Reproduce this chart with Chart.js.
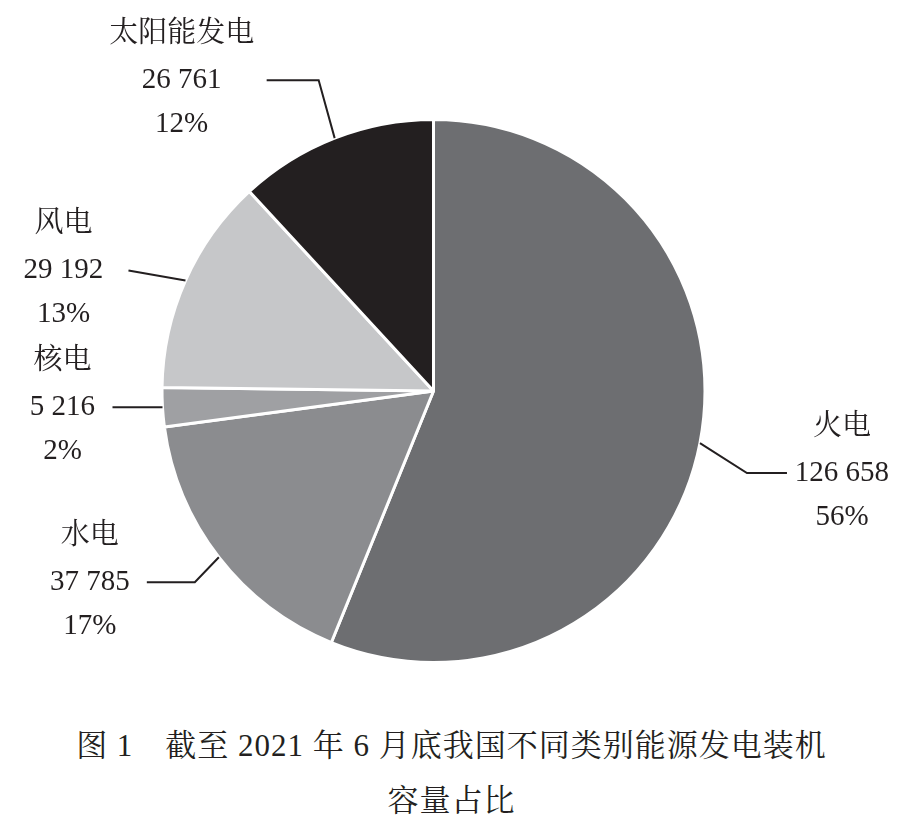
<!DOCTYPE html>
<html><head><meta charset="utf-8">
<script src="https://cdn.jsdelivr.net/npm/chart.js@4/dist/chart.umd.min.js"></script>
<style>
body{margin:0;background:#fff;width:903px;height:824px;overflow:hidden;font-family:"Liberation Serif","Noto Serif CJK SC","Noto Sans CJK SC",serif;}
#wrap{position:absolute;left:0;top:0;width:903px;height:700px;}
#cap{position:absolute;left:0;top:718px;width:903px;text-align:center;font-size:31px;line-height:55px;color:#231f20;letter-spacing:1px;}
</style></head><body>
<div id="wrap"><canvas id="c" width="903" height="700"></canvas></div>
<div id="cap">图 1　截至 2021 年 6 月底我国不同类别能源发电装机<br>容量占比</div>
<script>
const categories=["火电","水电","核电","风电","太阳能发电"];
const values=[126658,37785,5216,29192,26761];
const valueLabels=["126 658","37 785","5 216","29 192","26 761"];
const percentLabels=["56%","17%","2%","13%","12%"];
const colors=["#6d6e71","#8b8c8f","#9fa0a3","#c6c7c9","#231f20"];
// leader layout: [radial factor of elbow, elbow dx, elbow dy, horizontal length, text center dx from line end]
const leader=[[1.0,47,30,40,55],[1.0,-24,25,-48,-57],[1.0,0,0,-50,-50],[1.0,-57,-10,0,-65],[1.0,-16,-58,-52,-85]];
const labelPlugin={id:'lbl',afterDatasetsDraw(chart){
 const ctx=chart.ctx;const meta=chart.getDatasetMeta(0);
 ctx.save();ctx.strokeStyle="#231f20";ctx.lineWidth=2;ctx.fillStyle="#231f20";
 ctx.font='29px "Liberation Serif","Noto Serif CJK SC","Noto Sans CJK SC",serif';
 ctx.textAlign="center";ctx.textBaseline="middle";
 meta.data.forEach((a,i)=>{
  const m=(a.startAngle+a.endAngle)/2;
  const x0=a.x+Math.cos(m)*a.outerRadius, y0=a.y+Math.sin(m)*a.outerRadius;
  const L=leader[i];const x1=x0+L[1],y1=y0+L[2];const x2=x1+L[3];
  ctx.beginPath();ctx.moveTo(x0,y0);ctx.lineTo(x1,y1);ctx.lineTo(x2,y1);ctx.stroke();
  const tx=x2+L[4];
  ctx.fillText(categories[i],tx,y1-46);
  ctx.fillText(valueLabels[i],tx,y1);
  ctx.fillText(percentLabels[i],tx,y1+44);
 });
 ctx.restore();}};
new Chart(document.getElementById('c'),{type:'pie',
 data:{labels:categories,datasets:[{data:values,backgroundColor:colors,borderColor:"#fff",borderWidth:3}]},
 options:{responsive:false,animation:false,layout:{padding:{top:118,bottom:36,left:160,right:196}},
  plugins:{legend:{display:false},tooltip:{enabled:false}}},
 plugins:[labelPlugin]});
</script></body></html>
